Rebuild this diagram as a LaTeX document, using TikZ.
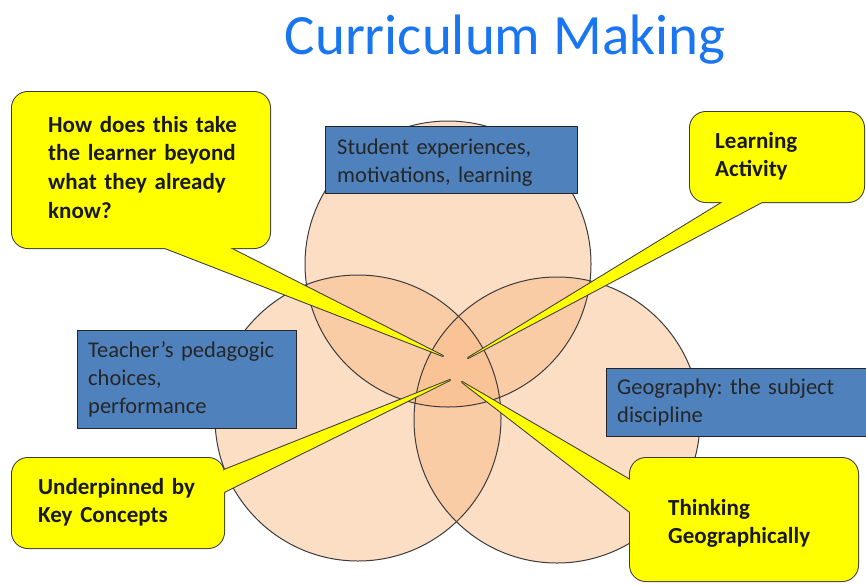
\documentclass[tikz,border=0pt]{standalone}
\usepackage{fontspec}
\setmainfont{Carlito}
\frenchspacing
\definecolor{peach}{RGB}{248,184,132}
\definecolor{boxblue}{RGB}{79,129,189}
\definecolor{titleblue}{RGB}{26,117,240}
\definecolor{ylw}{RGB}{255,255,0}
\definecolor{edge}{RGB}{60,60,60}
\tikzset{
  vennfill/.style={fill=peach, fill opacity=0.47},
  vennline/.style={draw=edge, line width=1},
  bluebox/.style={draw=black!85, fill=boxblue, line width=1},
  bluetext/.style={inner sep=0, anchor=base west, align=left, text width=260,
    text=black!85, font=\fontsize{22.5}{28}\selectfont},
  calledge/.style={draw=edge, line width=2, line join=round},
  callfill/.style={fill=ylw},
  calltext/.style={inner sep=0, anchor=base west, align=left, text width=260,
    text=black!90, font=\bfseries\fontsize{23}{28.8}\selectfont},
}
\begin{document}
\begin{tikzpicture}[x=1pt,y=-1pt]
\useasboundingbox (0,0) rectangle (866,584);
% title
\node[inner sep=0, anchor=base, text=titleblue, font=\fontsize{57}{64}\selectfont] (title) at (505,54) {Curriculum Making};
% circles
\coordinate (ct) at (448,264);
\coordinate (cl) at (358,418);
\coordinate (cr) at (557,420);
\fill[vennfill] (ct) circle[radius=143];
\fill[vennfill] (cl) circle[radius=143];
\fill[vennfill] (cr) circle[radius=143];
\draw[vennline] (ct) circle[radius=143];
\draw[vennline] (cl) circle[radius=143];
\draw[vennline] (cr) circle[radius=143];
% blue boxes
\draw[bluebox] (325,126) rectangle (577,193);
\node[bluetext] (stud) at (337,154) {Student experiences,\\motivations, learning};
\draw[bluebox] (77,330) rectangle (296,428);
\node[bluetext] (teach) at (88,357) {Teacher’s pedagogic\\choices,\\performance};
\draw[bluebox] (606,368) rectangle (880,436);
\node[bluetext] (geog) at (617,394) {Geography: the subject\\discipline};
% tips
\coordinate (tipA) at (443,356);
\coordinate (tipB) at (468,358);
\coordinate (tipC) at (450,380);
\coordinate (tipD) at (462,382);
% callout: top left
\path[calledge, rounded corners=16] (12,92) rectangle (270,248);
\path[calledge] (165,248) -- (tipA) -- (230,248) -- cycle;
\path[callfill, rounded corners=16] (12,92) rectangle (270,248);
\path[callfill] (165,248) -- (tipA) -- (230,248) -- cycle;
\node[calltext] (qa) at (48,132) {How does this take\\the learner beyond\\what they already\\know?};
% callout: top right
\path[calledge, rounded corners=16] (690,112) rectangle (864,202);
\path[calledge] (723,202) -- (tipB) -- (762,202) -- cycle;
\path[callfill, rounded corners=16] (690,112) rectangle (864,202);
\path[callfill] (723,202) -- (tipB) -- (762,202) -- cycle;
\node[calltext] (qb) at (715,148) {Learning\\Activity};
% callout: bottom left
\path[calledge, rounded corners=16] (12,458) rectangle (224,548);
\path[calledge] (224,470) -- (tipC) -- (224,492) -- cycle;
\path[callfill, rounded corners=16] (12,458) rectangle (224,548);
\path[callfill] (224,470) -- (tipC) -- (224,492) -- cycle;
\node[calltext] (qc) at (38,494) {Underpinned by\\Key Concepts};
% callout: bottom right
\path[calledge, rounded corners=16] (630,458) rectangle (858,581);
\path[calledge] (630,480) -- (tipD) -- (630,512) -- cycle;
\path[callfill, rounded corners=16] (630,458) rectangle (858,581);
\path[callfill] (630,480) -- (tipD) -- (630,512) -- cycle;
\node[calltext] (qd) at (668,515) {Thinking\\Geographically};
\end{tikzpicture}
\end{document}
